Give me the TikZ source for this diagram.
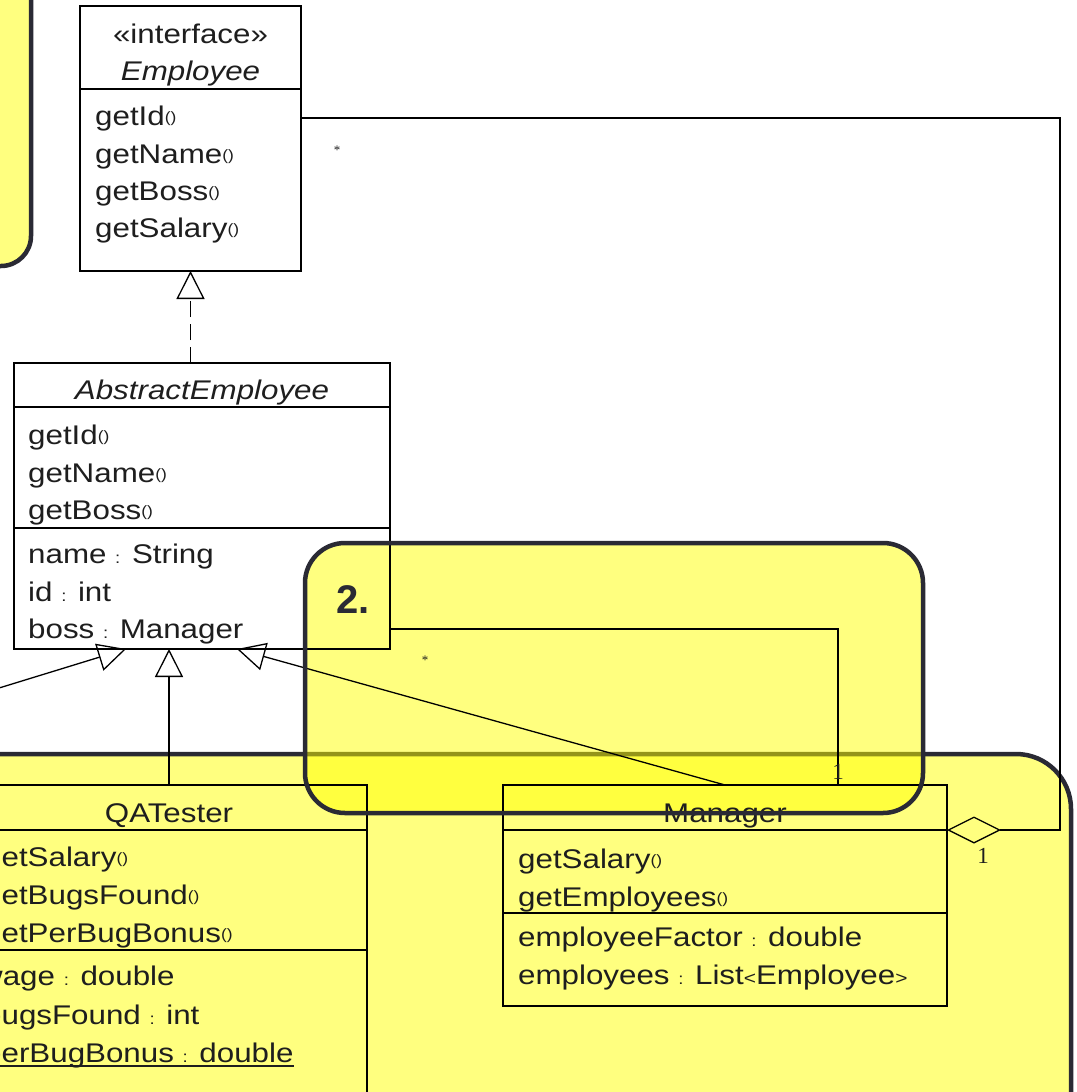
\documentclass[tikz,border=0pt]{standalone}
\usepackage{fontspec}
\setmainfont{Liberation Sans}[FakeStretch=1.16]
\newfontfamily\numfont{Liberation Sans}
\newfontfamily\labfont{Liberation Serif}
\usetikzlibrary{arrows.meta,calc}
\definecolor{hlborder}{RGB}{42,42,52}
\definecolor{txtc}{RGB}{30,30,30}
\definecolor{hly}{RGB}{255,255,0}
\newcommand\pa{\raisebox{2.5pt}{\fontsize{15}{15}\selectfont()}}
\newcommand\cn{{\fontsize{16}{16}\selectfont:}}
\newcommand\ltsym{{\fontsize{18}{18}\selectfont<}}
\newcommand\gtsym{{\fontsize{18}{18}\selectfont>}}
\begin{document}
\begin{tikzpicture}[x=1pt,y=-1pt,
  cls/.style={draw=black, line width=1.3pt, anchor=north west, inner sep=0pt, outer sep=0pt},
  txt/.style={anchor=base west, inner sep=0pt, font=\fontsize{27}{30}\selectfont, text=txtc},
  hdr/.style={anchor=base, inner sep=0pt, font=\fontsize{27}{30}\selectfont, text=txtc},
  ihdr/.style={hdr, font=\fontsize{27}{30}\selectfont\itshape},
  mult/.style={inner sep=0pt, font=\labfont\fontsize{23}{23}\selectfont, text=txtc},
  star/.style={inner sep=0pt, font=\labfont\fontsize{13}{13}\selectfont, text=txtc},
  uml/.style={line width=1.3pt, draw=black},
  gen/.style={uml, -{Triangle[open,length=28pt,width=28pt,line width=1.3pt]}},
  real/.style={gen, dash pattern=on 16pt off 7pt},
  agg/.style={uml, -{Diamond[open,length=54pt,width=27pt,line width=1.3pt]}},
  hlfill/.style={fill=hly, fill opacity=0.5},
  hlline/.style={draw=hlborder, line width=4.5pt}
]
\useasboundingbox (0,0) rectangle (1076,1092);
\fill[white] (0,0) rectangle (1076,1092);
\clip (0,0) rectangle (1076,1092);

% highlight box 3 (bottom) and box 2 fill
\fill[hlfill, rounded corners=55pt] (-60,754) rectangle (1071,1160);
\draw[hlline, rounded corners=55pt] (-60,754) rectangle (1071,1160);
\fill[hlfill, rounded corners=40pt] (305,543) rectangle (923,813);
% highlight box 1
\fill[hlfill, rounded corners=30pt] (-60,-60) rectangle (31,266);
\draw[hlline, rounded corners=30pt] (-60,-60) rectangle (31,266);

% ---- Employee ----
\node[cls, minimum width=221pt, minimum height=265pt] (emp) at (80,6) {};
\draw[uml] (emp.west |- 0,89) -- (emp.east |- 0,89);
\node[hdr] (e0) at (190.5,43) {«interface»};
\node[ihdr] (e00) at (190.5,80) {Employee};
\node[txt] (e1) at (95,125) {getId\pa};
\node[txt] (e2) at (95,163) {getName\pa};
\node[txt] (e3) at (95,200) {getBoss\pa};
\node[txt] (e4) at (95,237) {getSalary\pa};

% ---- AbstractEmployee ----
\node[cls, minimum width=376pt, minimum height=286pt] (ae) at (14,363) {};
\draw[uml] (ae.west |- 0,407) -- (ae.east |- 0,407);
\draw[uml] (ae.west |- 0,528) -- (ae.east |- 0,528);
\node[ihdr] (a0) at (202,399) {AbstractEmployee};
\node[txt] (a1) at (28,444) {getId\pa};
\node[txt] (a2) at (28,482) {getName\pa};
\node[txt] (a3) at (28,519) {getBoss\pa};
\node[txt] (a4) at (28,563) {name \cn{} String};
\node[txt] (a5) at (28,601) {id \cn{} int};
\node[txt] (a6) at (28,638) {boss \cn{} Manager};

% ---- QATester ----
\node[cls, minimum width=396pt, minimum height=380pt] (qa) at (-29,785) {};
\draw[uml] (qa.west |- 0,830) -- (qa.east |- 0,830);
\draw[uml] (qa.west |- 0,950) -- (qa.east |- 0,950);
\node[hdr] (q0) at (169,822) {QATester};
\node[txt] (q1) at (-16,866) {getSalary\pa};
\node[txt] (q2) at (-16,904) {getBugsFound\pa};
\node[txt] (q3) at (-16,942) {getPerBugBonus\pa};
\node[txt] (q4) at (-20,985) {wage \cn{} double};
\node[txt] (q5) at (-16,1024) {bugsFound \cn{} int};
\node[txt] (q6) at (-16,1062) {perBugBonus \cn{} double};
\draw[line width=1.3pt, txtc] ($(q6.base west)+(0,4)$) -- ($(q6.base east)+(0,4)$);

% ---- Manager ----
\node[cls, minimum width=444pt, minimum height=221pt] (mgr) at (503,785) {};
\draw[uml] (mgr.west |- 0,830) -- (mgr.east |- 0,830);
\draw[uml] (mgr.west |- 0,913) -- (mgr.east |- 0,913);
\node[hdr] (m0) at (725,822) {Manager};
\node[txt] (m1) at (518,868) {getSalary\pa};
\node[txt] (m2) at (518,906) {getEmployees\pa};
\node[txt] (m3) at (518,946) {employeeFactor \cn{} double};
\node[txt] (m4) at (518,984) {employees \cn{} List\ltsym Employee\gtsym};

% ---- connectors ----
\draw[real] (ae.north -| emp.south) -- (emp.south);
\draw[gen] (qa.north) -- (qa.north |- ae.south);
\draw[gen] (mgr.north) -- ($(ae.south west)+(223,0)$);
\coordinate (lfrom) at (-40,700);
\draw[gen] (lfrom) -- ($(ae.south west)+(112,0)$);
\draw[uml] ($(ae.north east)+(0,266)$) -| ($(mgr.north west)+(335,0)$);
\draw[agg] ($(emp.north east)+(0,112)$) -- ++(759,0) |- ($(mgr.north east)+(0,45)$);

\node[star] (s1) at (337,150) {*};
\node[star] (s2) at (425,660) {*};
\node[mult] (n1) at (838,772) {1};
\node[mult] (n2) at (983,856) {1};

% box 2 border and label on top
\draw[hlline, rounded corners=40pt] (305,543) rectangle (923,813);
\node[anchor=base west, inner sep=0pt, font=\numfont\bfseries\fontsize{40}{40}\selectfont, text=hlborder] (two) at (336,613) {2.};
\end{tikzpicture}
\end{document}
